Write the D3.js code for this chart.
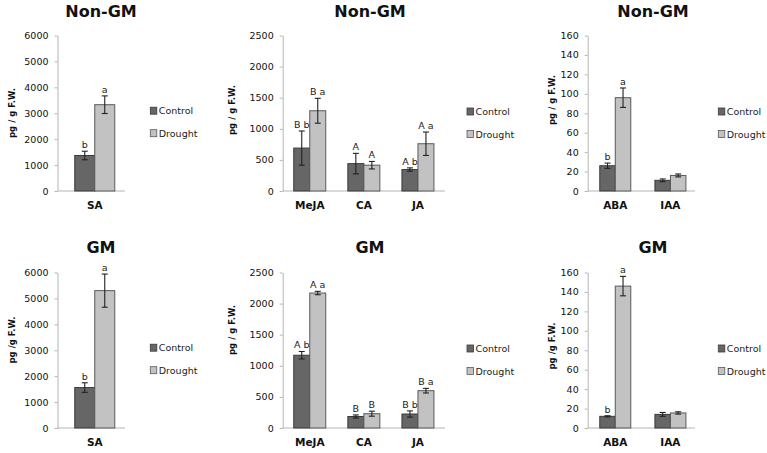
<!DOCTYPE html>
<html>
<head>
<meta charset="utf-8">
<script src="https://cdn.jsdelivr.net/npm/d3@7/dist/d3.min.js"></script>
<style>
  html, body { margin: 0; padding: 0; background: #fff; }
  svg { display: block; }
</style>
</head>
<body>
<svg id="chart" width="767" height="453"></svg>
<script>
// ---------------- DATA ----------------
const seriesNames = ["Control", "Drought"];
const rowTitles = ["Non-GM", "GM"];

const catsSA = ["SA"];
const catsJA = ["MeJA", "CA", "JA"];
const catsABA = ["ABA", "IAA"];

const ticksSA = [0, 1000, 2000, 3000, 4000, 5000, 6000];
const ticksJA = [0, 500, 1000, 1500, 2000, 2500];
const ticksABA = [0, 20, 40, 60, 80, 100, 120, 140, 160];

// Non-GM
const nonGmSaControl = [1370];
const nonGmSaControlErr = [165];
const nonGmSaDrought = [3330];
const nonGmSaDroughtErr = [340];
const nonGmSaControlLetters = ["b"];
const nonGmSaDroughtLetters = ["a"];

const nonGmJaControl = [690, 440, 345];
const nonGmJaControlErr = [275, 165, 27];
const nonGmJaDrought = [1290, 415, 760];
const nonGmJaDroughtErr = [200, 60, 188];
const nonGmJaControlLetters = ["B b", "A", "A b"];
const nonGmJaDroughtLetters = ["B a", "A", "A a"];

const nonGmAbaControl = [26, 11];
const nonGmAbaControlErr = [2.7, 1.4];
const nonGmAbaDrought = [96, 16];
const nonGmAbaDroughtErr = [10, 1.5];
const nonGmAbaControlLetters = ["b", ""];
const nonGmAbaDroughtLetters = ["a", ""];

// GM
const gmSaControl = [1560];
const gmSaControlErr = [185];
const gmSaDrought = [5300];
const gmSaDroughtErr = [640];
const gmSaControlLetters = ["b"];
const gmSaDroughtLetters = ["a"];

const gmJaControl = [1170, 185, 225];
const gmJaControlErr = [60, 25, 50];
const gmJaDrought = [2170, 230, 600];
const gmJaDroughtErr = [27, 40, 37];
const gmJaControlLetters = ["A b", "B", "B b"];
const gmJaDroughtLetters = ["A a", "B", "B a"];

const gmAbaControl = [12, 14];
const gmAbaControlErr = [0.6, 2];
const gmAbaDrought = [146, 15.5];
const gmAbaDroughtErr = [10, 1.2];
const gmAbaControlLetters = ["b", ""];
const gmAbaDroughtLetters = ["a", ""];

// ---------------- LAYOUT / STYLE ----------------
const colors = { Control: "#666666", Drought: "#c2c2c2" };
const strokes = { Control: "#3a3a3a", Drought: "#5a5a5a" };
const FONT = "'DejaVu Sans', Verdana, sans-serif";

const rows = [
  { top: 35.5, bottom: 191, titleY: 17, catY: 209 },
  { top: 272.5, bottom: 428, titleY: 253, catY: 446 }
];

const colLayout = [
  { axisX: 57.5, bandEnd: 132, baseEnd: 125, barW: 20, titleX: 101, yLabX: 12, yLabY: [113, 340], legX: 150.3, legY: 110.7 },
  { axisX: 282.7, bandEnd: 445, baseEnd: 445, barW: 16, titleX: 370, yLabX: 232, yLabY: [110, 330], legX: 467, legY: 111.5 },
  { axisX: 587.7, bandEnd: 698, baseEnd: 695, barW: 15.5, titleX: 653, yLabX: 552, yLabY: [100, 346], legX: 718.3, legY: 111.5 }
];

const panels = [
  { row: 0, col: 0, cats: catsSA, ticks: ticksSA, ylab: "pg / g F.W.",
    ctrl: nonGmSaControl, ctrlErr: nonGmSaControlErr, dr: nonGmSaDrought, drErr: nonGmSaDroughtErr,
    ctrlL: nonGmSaControlLetters, drL: nonGmSaDroughtLetters },
  { row: 0, col: 1, cats: catsJA, ticks: ticksJA, ylab: "pg / g F.W.",
    ctrl: nonGmJaControl, ctrlErr: nonGmJaControlErr, dr: nonGmJaDrought, drErr: nonGmJaDroughtErr,
    ctrlL: nonGmJaControlLetters, drL: nonGmJaDroughtLetters },
  { row: 0, col: 2, cats: catsABA, ticks: ticksABA, ylab: "pg / g F.W.",
    ctrl: nonGmAbaControl, ctrlErr: nonGmAbaControlErr, dr: nonGmAbaDrought, drErr: nonGmAbaDroughtErr,
    ctrlL: nonGmAbaControlLetters, drL: nonGmAbaDroughtLetters },
  { row: 1, col: 0, cats: catsSA, ticks: ticksSA, ylab: "pg /g F.W.",
    ctrl: gmSaControl, ctrlErr: gmSaControlErr, dr: gmSaDrought, drErr: gmSaDroughtErr,
    ctrlL: gmSaControlLetters, drL: gmSaDroughtLetters },
  { row: 1, col: 1, cats: catsJA, ticks: ticksJA, ylab: "pg / g F.W.",
    ctrl: gmJaControl, ctrlErr: gmJaControlErr, dr: gmJaDrought, drErr: gmJaDroughtErr,
    ctrlL: gmJaControlLetters, drL: gmJaDroughtLetters },
  { row: 1, col: 2, cats: catsABA, ticks: ticksABA, ylab: "pg /g F.W.",
    ctrl: gmAbaControl, ctrlErr: gmAbaControlErr, dr: gmAbaDrought, drErr: gmAbaDroughtErr,
    ctrlL: gmAbaControlLetters, drL: gmAbaDroughtLetters }
];

const svg = d3.select("#chart");

panels.forEach(p => {
  const R = rows[p.row];
  const C = colLayout[p.col];
  const g = svg.append("g");

  const y = d3.scaleLinear()
    .domain([0, d3.max(p.ticks)])
    .range([R.bottom, R.top]);
  const x = d3.scaleBand()
    .domain(p.cats)
    .range([C.axisX, C.bandEnd])
    .padding(0);
  const sub = d3.scaleBand()
    .domain(seriesNames)
    .range([-C.barW, C.barW]);

  // title
  g.append("text")
    .attr("x", C.titleX).attr("y", R.titleY)
    .attr("text-anchor", "middle")
    .attr("font-family", FONT).attr("font-weight", "bold").attr("font-size", 16)
    .attr("fill", "#111")
    .text(rowTitles[p.row]);

  // y axis
  const yAxis = d3.axisLeft(y).tickValues(p.ticks).tickFormat(d3.format("d"))
    .tickSize(3).tickPadding(6).tickSizeOuter(0);
  const ya = g.append("g").attr("transform", `translate(${C.axisX},0)`).call(yAxis);
  ya.select(".domain").attr("stroke", "#b5b5b5");
  ya.selectAll(".tick line").attr("stroke", "#b5b5b5");
  ya.selectAll(".tick text")
    .attr("font-family", FONT).attr("font-size", 9.5).attr("fill", "#111");

  // baseline
  g.append("line")
    .attr("x1", C.axisX).attr("x2", C.baseEnd)
    .attr("y1", y(0)).attr("y2", y(0))
    .attr("stroke", "#b5b5b5").attr("stroke-width", 1);

  // category labels
  g.selectAll(".cat").data(p.cats).join("text")
    .attr("x", d => x(d) + x.bandwidth() / 2)
    .attr("y", R.catY)
    .attr("text-anchor", "middle")
    .attr("font-family", FONT).attr("font-weight", "bold").attr("font-size", 10.5)
    .attr("fill", "#111")
    .text(d => d);

  // y label
  g.append("text")
    .attr("transform", `translate(${C.yLabX},${C.yLabY[p.row]}) rotate(-90)`)
    .attr("text-anchor", "middle")
    .attr("dominant-baseline", "middle")
    .attr("font-family", FONT).attr("font-weight", "bold").attr("font-size", 8.5)
    .attr("fill", "#111")
    .text(p.ylab);

  // bars
  const data = [];
  p.cats.forEach((c, i) => {
    data.push({ cat: c, s: "Control", v: p.ctrl[i], e: p.ctrlErr[i], l: p.ctrlL[i] });
    data.push({ cat: c, s: "Drought", v: p.dr[i], e: p.drErr[i], l: p.drL[i] });
  });
  const cx = d => x(d.cat) + x.bandwidth() / 2;

  g.selectAll(".bar").data(data).join("rect")
    .attr("x", d => cx(d) + sub(d.s))
    .attr("width", sub.bandwidth())
    .attr("y", d => y(d.v))
    .attr("height", d => y(0) - y(d.v))
    .attr("fill", d => colors[d.s])
    .attr("stroke", d => strokes[d.s])
    .attr("stroke-width", 1);

  // error bars
  const capW = 3;
  const eb = g.selectAll(".eb").data(data).join("g")
    .attr("stroke", "#222").attr("stroke-width", 1.1);
  eb.append("line")
    .attr("x1", d => cx(d) + sub(d.s) + sub.bandwidth() / 2)
    .attr("x2", d => cx(d) + sub(d.s) + sub.bandwidth() / 2)
    .attr("y1", d => y(d.v + d.e)).attr("y2", d => y(d.v - d.e));
  eb.append("line")
    .attr("x1", d => cx(d) + sub(d.s) + sub.bandwidth() / 2 - capW)
    .attr("x2", d => cx(d) + sub(d.s) + sub.bandwidth() / 2 + capW)
    .attr("y1", d => y(d.v + d.e)).attr("y2", d => y(d.v + d.e));
  eb.append("line")
    .attr("x1", d => cx(d) + sub(d.s) + sub.bandwidth() / 2 - capW)
    .attr("x2", d => cx(d) + sub(d.s) + sub.bandwidth() / 2 + capW)
    .attr("y1", d => y(d.v - d.e)).attr("y2", d => y(d.v - d.e));

  // significance letters
  g.selectAll(".lt").data(data.filter(d => d.l)).join("text")
    .attr("x", d => cx(d) + sub(d.s) + sub.bandwidth() / 2)
    .attr("y", d => y(d.v + d.e) - 3)
    .attr("text-anchor", "middle")
    .attr("font-family", FONT).attr("font-size", 9.5)
    .attr("fill", "#222")
    .text(d => d.l);

  // legend
  const legOffset = p.row === 0 ? 0 : 237;
  seriesNames.forEach((s, i) => {
    const ly = C.legY + legOffset + i * 22.5;
    g.append("rect")
      .attr("x", C.legX).attr("y", ly - 3.5)
      .attr("width", 6.5).attr("height", 7)
      .attr("fill", colors[s]).attr("stroke", strokes[s]).attr("stroke-width", 0.8);
    g.append("text")
      .attr("x", C.legX + 8.5).attr("y", ly)
      .attr("dominant-baseline", "central")
      .attr("font-family", FONT).attr("font-size", 9.5)
      .attr("fill", "#222")
      .text(s);
  });
});
</script>
</body>
</html>
